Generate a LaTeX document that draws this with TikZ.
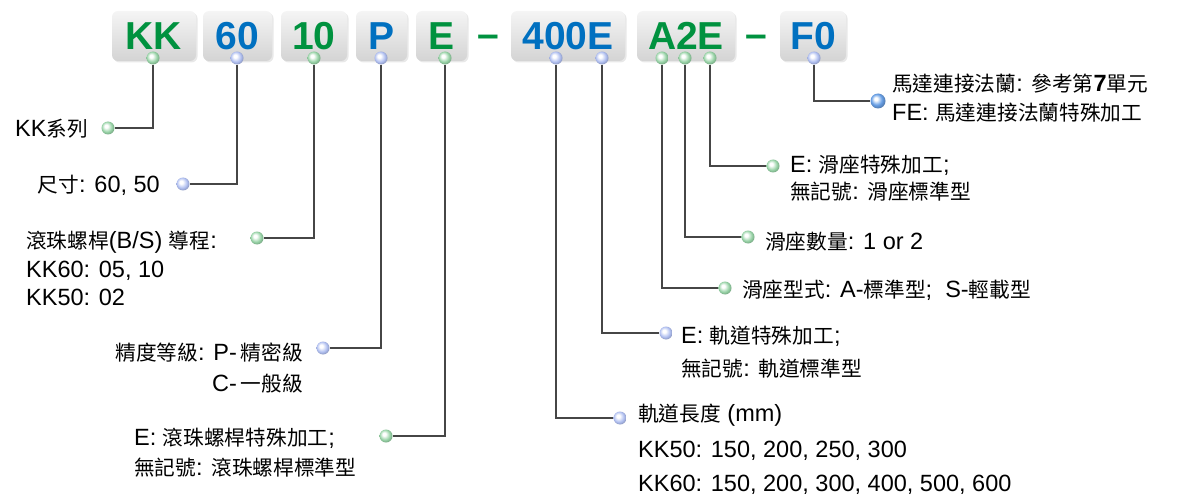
\documentclass[tikz,border=0pt]{standalone}
\usepackage{fontspec}
\setmainfont{Liberation Sans}
\newfontfamily\zhfont{Noto Sans CJK TC}[Scale=0.88]
\newcommand{\zh}[1]{{\zhfont #1}}
\usetikzlibrary{shadows}
\definecolor{codegreen}{RGB}{0,146,63}
\definecolor{codeblue}{RGB}{0,112,192}
\definecolor{pgreen}{RGB}{150,210,165}
\definecolor{pblue}{RGB}{175,190,240}
\definecolor{fblue}{RGB}{105,160,230}
\definecolor{wirecol}{RGB}{70,70,70}
\pgfdeclareradialshading{gball}{\pgfpoint{-8bp}{8bp}}{color(0bp)=(white); color(6bp)=(white);
    color(20bp)=(pgreen); color(30bp)=(pgreen!75!black); color(50bp)=(pgreen!75!black)}
\pgfdeclareradialshading{bball}{\pgfpoint{-8bp}{8bp}}{color(0bp)=(white); color(6bp)=(white);
    color(20bp)=(pblue); color(30bp)=(pblue!75!black); color(50bp)=(pblue!75!black)}
\pgfdeclareradialshading{fball}{\pgfpoint{-8bp}{8bp}}{color(0bp)=(white); color(5bp)=(white);
    color(18bp)=(fblue); color(30bp)=(fblue!70!black); color(50bp)=(fblue!70!black)}

\begin{document}
\begin{tikzpicture}[x=1pt,y=-1pt,
    codebox/.style={rounded corners=6pt,top color=white!96!black,bottom color=white!83!black,
        minimum height=50pt,inner sep=0pt,font=\fontsize{39}{39}\selectfont\bfseries,
        drop shadow={opacity=0.18,shadow xshift=1.5pt,shadow yshift=-1.5pt}},
    gdot/.style={circle,inner sep=0pt,minimum size=13pt,shading=gball},
    bdot/.style={circle,inner sep=0pt,minimum size=13pt,shading=bball},
    fdot/.style={circle,inner sep=0pt,minimum size=15pt,shading=fball},
    lbl/.style={inner sep=0pt,font=\fontsize{23.5}{30}\selectfont},
    wire/.style={draw=wirecol,line width=1.4pt}]
    \useasboundingbox (0,0) rectangle (1185,497);

    % code boxes
    \foreach \n/\x/\w/\t/\c in {kk/154/84/KK/codegreen,sz/237.5/69/60/codeblue,
        ld/314/66/10/codegreen,pr/381.5/51/P/codeblue,bs/441.5/51/E/codegreen,
        rl/568/114/400E/codeblue,sl/686/98/A2E/codegreen,fl/813/66/F0/codeblue}{
        \node[codebox,minimum width=\w pt,text=\c] (\n) at (\x,36) {\t};
    }
    \node[anchor=base,inner sep=0pt,text=codegreen,font=\fontsize{39}{39}\selectfont\bfseries] (dash1) at (488,48) {--};
    \node[anchor=base,inner sep=0pt,text=codegreen,font=\fontsize{39}{39}\selectfont\bfseries] (dash2) at (756,48) {--};

    % dots under the boxes
    \foreach \n/\x/\s in {kk/153/gdot,sz/237/bdot,ld/314/gdot,pr/381/bdot,bs/445/gdot,
        rla/556/bdot,rlb/602/bdot,sla/662/gdot,slb/685/gdot,slc/710/gdot,fl/814/bdot}{
        \node[\s] (t\n) at (\x,58) {};
    }

    % dots at the labels
    \node[gdot] (dkk) at (108,128) {};
    \node[bdot] (dsz) at (183,184) {};
    \node[gdot] (dld) at (257,238) {};
    \node[bdot] (dpr) at (323,348) {};
    \node[gdot] (dbs) at (386,436) {};
    \node[bdot] (drla) at (620,418) {};
    \node[bdot] (drlb) at (666,333) {};
    \node[gdot] (dsla) at (725,288) {};
    \node[gdot] (dslb) at (748,237) {};
    \node[gdot] (dslc) at (773,166) {};
    \node[fdot] (dfl) at (878,101) {};

    \foreach \n in {kk,sz,ld,pr,bs,rla,rlb,sla,slb,slc,fl}{
        \draw[wire] (t\n) |- (d\n);
    }

    % left labels
    \node[lbl,anchor=base east] (lkk) at (88,137) {KK\zh{系列}};
    \node[lbl,anchor=base east] (lsz) at (160,193) {\zh{尺寸}: 60, 50};
    \node[lbl,anchor=base west] (lld1) at (26,248) {\zh{滾珠螺桿}(B/S) \zh{導程}:};
    \node[lbl,anchor=base west] (lld2) at (26,277) {KK60: 05, 10};
    \node[lbl,anchor=base west] (lld3) at (26,305) {KK50: 02};
    \node[lbl,anchor=base east] (lpr1) at (303,360) {\zh{精度等級}: P-\,\zh{精密級}};
    \node[lbl,anchor=base east] (lpr2) at (303,391) {C-\,\zh{一般級}};
    \node[lbl,anchor=base west] (lbs1) at (134,445) {E: \zh{滾珠螺桿特殊加工};};
    \node[lbl,anchor=base west] (lbs2) at (134,475) {\zh{無記號}: \zh{滾珠螺桿標準型}};

    % right labels
    \node[lbl,anchor=base west] (lrla1) at (638,421) {\zh{軌道長度} (mm)};
    \node[lbl,anchor=base west] (lrla2) at (638,457) {KK50: 150, 200, 250, 300};
    \node[lbl,anchor=base west] (lrla3) at (638,491) {KK60: 150, 200, 300, 400, 500, 600};
    \node[lbl,anchor=base west] (lrlb1) at (681,343) {E: \zh{軌道特殊加工};};
    \node[lbl,anchor=base west] (lrlb2) at (681,376) {\zh{無記號}: \zh{軌道標準型}};
    \node[lbl,anchor=base west] (lsla) at (742,297) {\zh{滑座型式}: A-\zh{標準型}; \ S-\zh{輕載型}};
    \node[lbl,anchor=base west] (lslb) at (765,249) {\zh{滑座數量}: 1 or 2};
    \node[lbl,anchor=base west] (lslc1) at (790,172) {E: \zh{滑座特殊加工};};
    \node[lbl,anchor=base west] (lslc2) at (790,200) {\zh{無記號}: \zh{滑座標準型}};
    \node[lbl,anchor=base west] (lfl1) at (892,92) {\zh{馬達連接法蘭}: \zh{參考第}\textbf{7}\zh{單元}};
    \node[lbl,anchor=base west] (lfl2) at (892,121) {FE: \zh{馬達連接法蘭特殊加工}};
\end{tikzpicture}
\end{document}
